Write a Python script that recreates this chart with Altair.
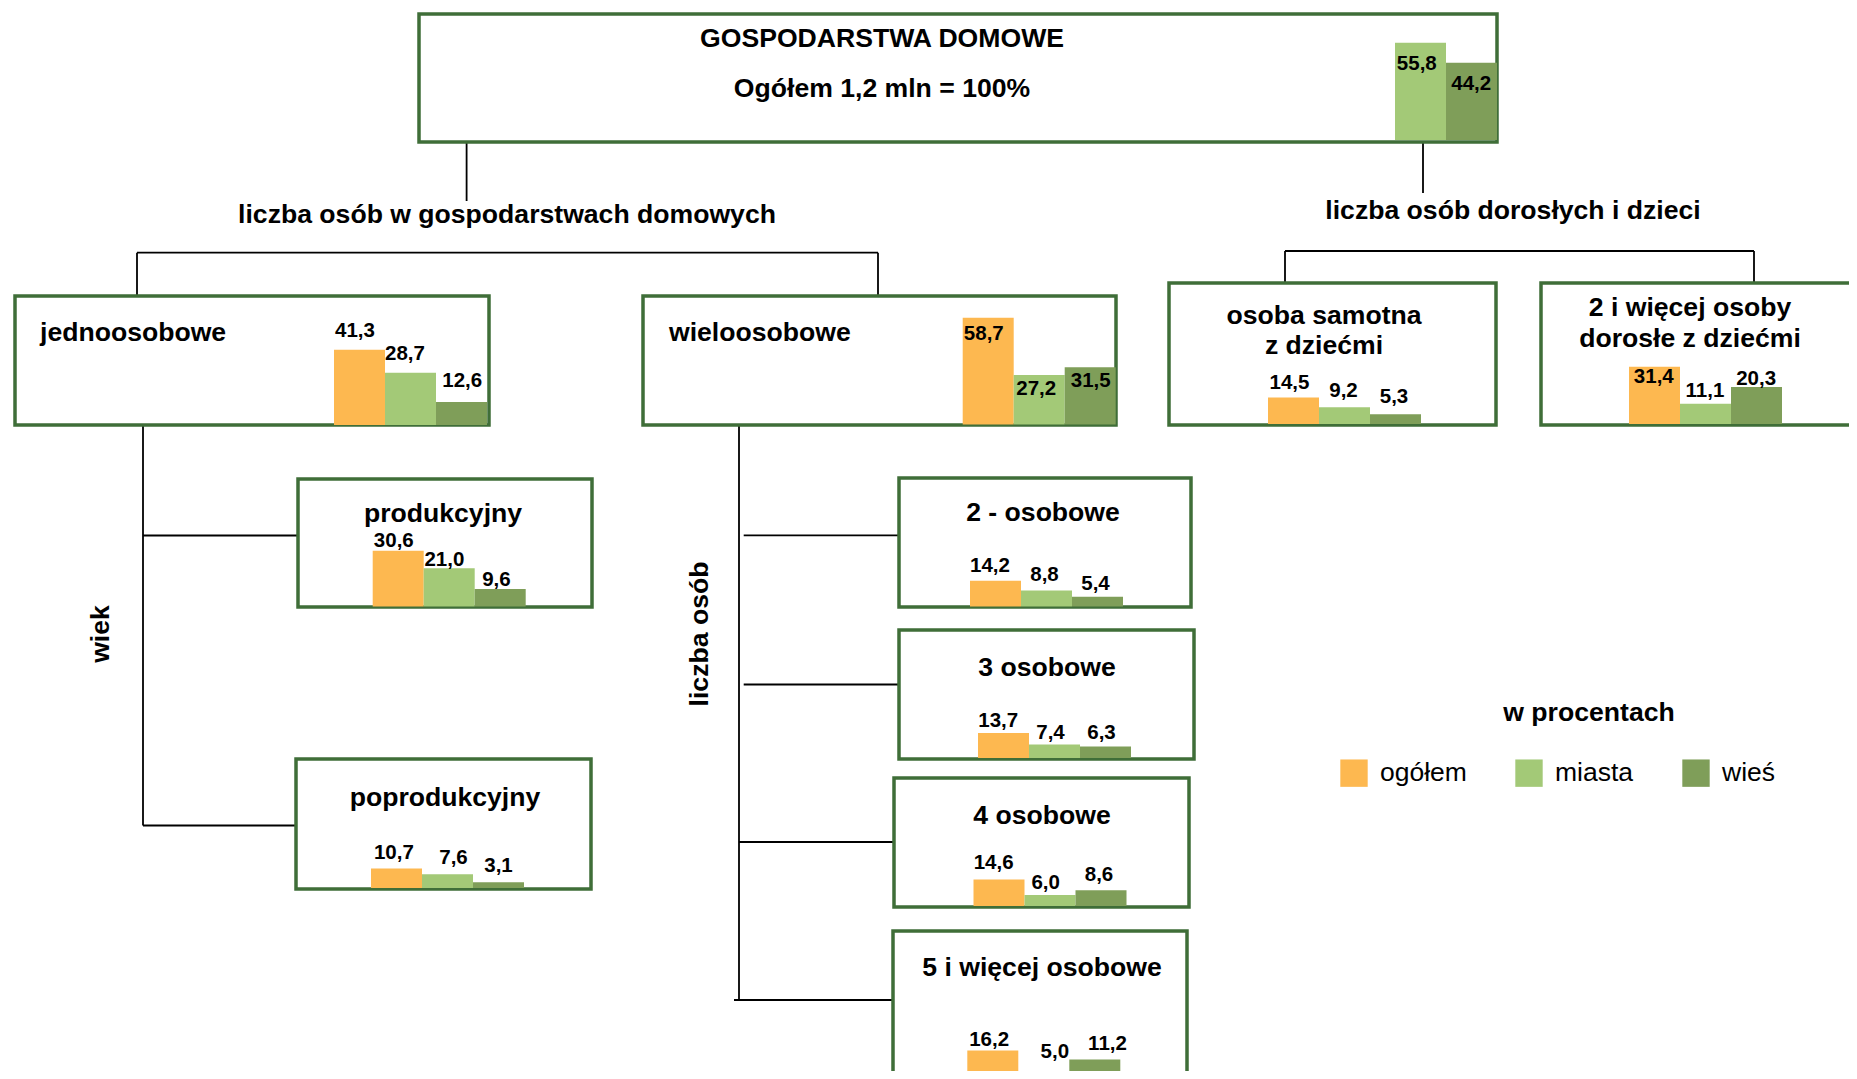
import altair as alt
import pandas as pd

# ---------------- data ----------------
SERIES = ["ogółem", "miasta", "wieś"]
COLORS = ["#FDB850", "#A3C977", "#7F9E59"]

PANELS = ["gosp", "jedno", "wielo", "samotna", "dorosle", "prod", "poprod",
          "os2", "os3", "os4", "os5"]
OGOLEM = [None, 41.3, 58.7, 14.5, 31.4, 30.6, 10.7, 14.2, 13.7, 14.6, 16.2]
MIASTA = [55.8, 28.7, 27.2, 9.2, 11.1, 21.0, 7.6, 8.8, 7.4, 6.0, 5.0]
WIES = [44.2, 12.6, 31.5, 5.3, 20.3, 9.6, 3.1, 5.4, 6.3, 8.6, 11.2]

# centred bold titles
TITLES = ["GOSPODARSTWA DOMOWE", "Ogółem 1,2 mln = 100%",
          "liczba osób w gospodarstwach domowych", "liczba osób dorosłych i dzieci",
          "osoba samotna", "z dziećmi", "2 i więcej osoby", "dorosłe z dziećmi",
          "produkcyjny", "poprodukcyjny", "2 - osobowe", "3 osobowe",
          "4 osobowe", "5 i więcej osobowe", "wiek", "liczba osób", "w procentach"]
LEFT_TITLES = ["jednoosobowe", "wieloosobowe"]

# ---------------- layout (page pixels) ----------------
BAR_W = 51
BOX = {
    "gosp": (419, 14, 1497, 142),
    "jedno": (15, 296, 489, 425),
    "wielo": (643, 296, 1116, 425),
    "samotna": (1169, 283, 1496, 425),
    "dorosle": (1541, 283, 1900, 425),
    "prod": (298, 479, 592, 607),
    "poprod": (296, 759, 591, 889),
    "os2": (899, 478, 1191, 607),
    "os3": (899, 630, 1194, 759),
    "os4": (894, 778, 1189, 907),
    "os5": (893, 931, 1187, 1110),
}
# x of first bar slot, bar baseline, px per percent
BARPOS = {
    "gosp": (1344, 140, 1.745),
    "jedno": (334, 425, 1.82),
    "wielo": (962.7, 424.5, 1.82),
    "samotna": (1268, 424, 1.82),
    "dorosle": (1629, 424, 1.82),
    "prod": (372.7, 606.5, 1.82),
    "poprod": (371, 888, 1.82),
    "os2": (970, 606.5, 1.82),
    "os3": (978, 758, 1.82),
    "os4": (973.5, 906, 1.82),
    "os5": (967.3, 1080, 1.82),
}
# value-label offsets from bar top / bar centre
LBL_DY = {
    "gosp": [0, 21.6, 21], "jedno": [-19, -18.7, -21.4], "wielo": [16.3, 14.3, 14],
    "samotna": [-14.4, -16, -17.4], "dorosle": [10.3, -13, -8.3],
    "prod": [-10, -8.4, -9.3], "poprod": [-16, -15.7, -16.7],
    "os2": [-15, -15, -13], "os3": [-12, -11.7, -13.7], "os4": [-16.3, -11.7, -15.3],
    "os5": [-11, -19.3, -15.3],
}
LBL_DX = {
    "gosp": [0, -3.7, -0.3], "jedno": [-4.5, -5.5, 0.7], "wielo": [-4.4, -3, 0.5],
    "samotna": [-4, -1, -1.5], "dorosle": [-0.7, -0.6, -0.4],
    "prod": [-4.4, -4.8, -3.8], "poprod": [-2.6, 6, 0],
    "os2": [-5.5, -2, -2], "os3": [-5.3, -4, -4], "os4": [-5.4, -4.3, -2],
    "os5": [-3.7, 11, 12.7],
}
TFS = 26.6
TITLE_POS = [(882, 39, TFS, 0), (882, 89, TFS, 0), (507, 215, TFS, 0), (1513, 211, TFS, 0),
             (1324, 316, TFS, 0), (1324, 346, TFS, 0), (1690, 308, TFS, 0), (1690, 339, TFS, 0),
             (443, 514, TFS, 0), (445, 798, TFS, 0), (1043, 513, TFS, 0), (1047, 668, TFS, 0),
             (1042, 816, TFS, 0), (1042, 968, TFS, 0), (101, 634, TFS, 270), (700, 634, TFS, 270),
             (1589, 713, TFS, 0)]
LEFT_POS = [(40, 333), (669, 333)]
RULES = [(466.6, 142, 466.6, 201), (1423, 142, 1423, 193),
         (137, 252.7, 878, 252.7), (137, 252.7, 137, 296), (878, 252.7, 878, 296),
         (1285, 251, 1754, 251), (1285, 251, 1285, 283), (1754, 251, 1754, 283),
         (143, 425, 143, 825.5), (143, 535.5, 298, 535.5), (143, 825.5, 296, 825.5),
         (739, 425, 739, 1000), (743.7, 535.3, 899, 535.3), (743.7, 684.5, 899, 684.5),
         (739, 842, 894, 842), (734, 1000, 893, 1000)]

FONT = "Liberation Sans, Arial, sans-serif"
BORDER = "#3F6E38"

# ---------------- tables ----------------
rows = []
for i, p in enumerate(PANELS):
    x0, base, k = BARPOS[p]
    for j, vals in enumerate([OGOLEM, MIASTA, WIES]):
        v = vals[i]
        if v is None:
            continue
        rows.append(dict(panel=p, series=SERIES[j], value=v, idx=j, x0=x0, base=base, k=k,
                         w=BAR_W, dy=LBL_DY[p][j], dx=LBL_DX[p][j]))
bars_df = pd.DataFrame(rows)

boxes_df = pd.DataFrame([dict(panel=p, bx1=b[0], by1=b[1], bx2=b[2], by2=b[3]) for p, b in BOX.items()])
rules_df = pd.DataFrame([dict(rx1=r[0], ry1=r[1], rx2=r[2], ry2=r[3]) for r in RULES])
titles_df = pd.DataFrame([dict(t=t, tx=p[0], ty=p[1], fs=p[2], ang=p[3]) for t, p in zip(TITLES, TITLE_POS)])
left_df = pd.DataFrame([dict(t=t, tx=p[0], ty=p[1]) for t, p in zip(LEFT_TITLES, LEFT_POS)])

XS = alt.Scale(domain=[8, 1849], nice=False, zero=False)
YS = alt.Scale(domain=[8, 1071], nice=False, zero=False, reverse=True)

rules = alt.Chart(rules_df).mark_rule(color="black", strokeWidth=1.8, clip=True).encode(
    x=alt.X("rx1:Q", scale=XS, axis=None), x2="rx2:Q",
    y=alt.Y("ry1:Q", scale=YS, axis=None), y2="ry2:Q")

boxes = alt.Chart(boxes_df).mark_rect(fill="white", stroke=BORDER, strokeWidth=3.5, clip=True).encode(
    x=alt.X("bx1:Q", scale=XS, axis=None), x2="bx2:Q",
    y=alt.Y("by1:Q", scale=YS, axis=None), y2="by2:Q")

bars = alt.Chart(bars_df).transform_calculate(
    lx="datum.x0 + datum.idx * datum.w",
    rx="datum.x0 + (datum.idx + 1) * datum.w",
    top="datum.base - datum.value * datum.k",
).mark_rect(clip=True).encode(
    x=alt.X("lx:Q", scale=XS, axis=None), x2="rx:Q",
    y=alt.Y("base:Q", scale=YS, axis=None), y2="top:Q",
    color=alt.Color("series:N", scale=alt.Scale(domain=SERIES, range=COLORS),
                    legend=alt.Legend(title=None, orient="none", legendX=1332, legendY=751,
                                      direction="horizontal", columns=3, symbolType="square",
                                      symbolSize=750, symbolStrokeWidth=0, symbolOpacity=1,
                                      labelFont=FONT, labelFontSize=26.5, labelColor="black",
                                      labelOffset=12, columnPadding=48, padding=0)))

values = alt.Chart(bars_df).transform_calculate(
    tx="datum.x0 + (datum.idx + 0.5) * datum.w + datum.dx",
    ty="datum.base - datum.value * datum.k + datum.dy",
    label="replace(format(datum.value, '.1f'), '.', ',')",
).mark_text(font=FONT, fontWeight="bold", fontSize=20.5, color="black", align="center",
            baseline="middle", clip=True).encode(
    x=alt.X("tx:Q", scale=XS, axis=None), y=alt.Y("ty:Q", scale=YS, axis=None), text="label:N")

titles = alt.Chart(titles_df).mark_text(font=FONT, fontWeight="bold", color="black", align="center",
                                        baseline="middle").encode(
    x=alt.X("tx:Q", scale=XS, axis=None), y=alt.Y("ty:Q", scale=YS, axis=None), text="t:N",
    size=alt.Size("fs:Q", scale=None), angle=alt.Angle("ang:Q", scale=None))

left_titles = alt.Chart(left_df).mark_text(font=FONT, fontWeight="bold", fontSize=TFS, color="black",
                                           align="left", baseline="middle").encode(
    x=alt.X("tx:Q", scale=XS, axis=None), y=alt.Y("ty:Q", scale=YS, axis=None), text="t:N")

chart = alt.layer(rules, boxes, bars, values, titles, left_titles).properties(
    width=1841, height=1063, padding=0, autosize="none", background="white"
).configure_view(stroke=None)

chart.save("out.html", embed_options={"renderer": "svg", "actions": False})
